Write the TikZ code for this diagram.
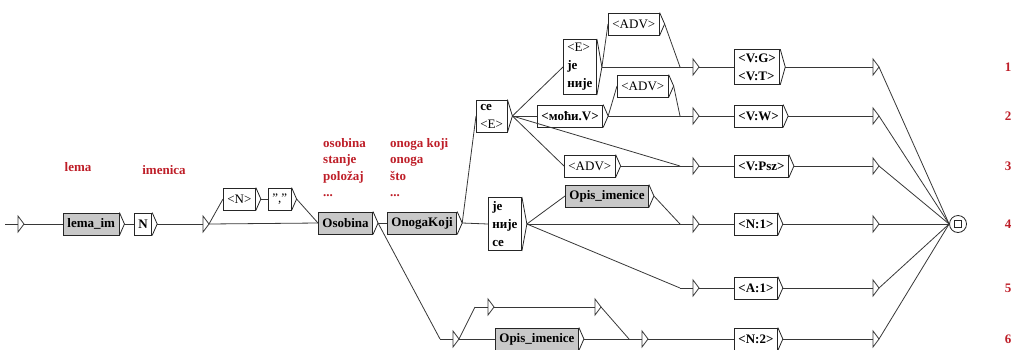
\documentclass[tikz,border=0pt]{standalone}
\usepackage{fontspec}
\setmainfont{Liberation Serif}
\usepackage{tikz}
\usetikzlibrary{positioning,calc}
\definecolor{lblred}{RGB}{190,30,40}
\definecolor{subgray}{RGB}{200,200,200}
\definecolor{linegray}{RGB}{55,55,55}

\tikzset{
  etri/.pic={
    \draw[linegray, line width=0.8pt] (-13,0) -- (0,0);
    \draw[linegray, line width=0.8pt, fill=white] (0,-8) -- (6,0) -- (0,8) -- cycle;
    \coordinate (-in) at (-13,0);
    \coordinate (-out) at (6,0);
  }
}

\begin{document}
\begin{tikzpicture}[x=1pt, y=-1pt,
    box/.style={draw=black!85, line width=0.8pt, fill=white, align=left, anchor=west,
                inner xsep=4pt, inner ysep=4pt, minimum height=22pt,
                font=\fontsize{13}{18}\selectfont\bfseries},
    subbox/.style={box, fill=subgray},
    plain/.style={font=\fontsize{13}{18}\selectfont},
    trans/.style={draw=linegray, line width=0.8pt},
    lbl/.style={text=lblred, font=\fontsize{13}{16.5}\selectfont\bfseries,
                align=left, inner sep=0pt}
]
\useasboundingbox (0,0) rectangle (1014,349);

% red comments
\node[lbl] (lblLema) at (78,167) {lema};
\node[lbl] (lblImen) at (164,170) {imenica};
\node[lbl, anchor=north west] (lblOsob) at (323,138) {osobina\\stanje\\položaj\\...};
\node[lbl, anchor=north west] (lblOnoga) at (390,138) {onoga koji\\onoga\\što\\...};
\foreach \n/\y in {1/67,2/116,3/166,4/224,5/288,6/339}
  \node[lbl] (num\n) at (1008,\y) {\n};

% main line
\pic (t0) at (18,224) {etri};
\node[subbox] (lemaim) at (63,224) {lema\_im};
\node[box] (nn) at (134,224) {N};
\pic (t1) at (203,224) {etri};
\node[box, plain] (ntag) at (223,199) {<N>};
\node[box, plain] (comma) at (268,199) {","};
\node[subbox] (osobina) at (318,223) {Osobina};
\node[subbox] (onoga) at (387,223) {OnogaKoji};

% upper branch
\node[box] (ce) at (476,116) {ce\\{\mdseries <E>}};
\node[box] (eje) at (563,67) {{\mdseries <E>}\\je\\није};
\node[box, plain] (adv1) at (608,24) {<ADV>};
\node[box] (mocv) at (537,116) {<моћи.V>};
\node[box, plain] (adv2) at (617,86) {<ADV>};
\node[box, plain] (adv3) at (564,166) {<ADV>};

% middle branch
\node[box] (jenije) at (488,224) {je\\није\\ce};
\node[subbox] (opis1) at (565,196) {Opis\_imenice};

% lower branch
\pic (t6a) at (453,339) {etri};
\pic (t6b) at (488,307) {etri};
\pic (t6c) at (595,307) {etri};
\node[subbox] (opis2) at (495,339) {Opis\_imenice};
\pic (t6d) at (642,339) {etri};

% output column
\foreach \r/\y in {1/67,2/116,3/166,4/224,5/288}
  \pic (r\r) at (693,\y) {etri};
\node[box] (vgt) at (734,67) {<V:G>\\<V:T>};
\node[box] (vw) at (734,116) {<V:W>};
\node[box] (vpsz) at (734,166) {<V:Psz>};
\node[box] (nA) at (734,224) {<N:1>};
\node[box] (aA) at (734,288) {<A:1>};
\node[box] (nB) at (734,339) {<N:2>};
\foreach \s/\y in {1/67,2/116,3/166,4/224,5/288,6/339}
  \pic (s\s) at (873,\y) {etri};

% final state
\node[circle, draw=black!85, line width=0.8pt, minimum size=17pt, inner sep=0pt] (fin) at (958,224) {};
\node[draw=black!85, line width=0.8pt, minimum size=7pt, inner sep=0pt] (finsq) at (fin.center) {};

% box tips
\foreach \b in {lemaim,nn,ntag,comma,osobina,onoga,ce,eje,adv1,mocv,adv2,adv3,
                jenije,opis1,opis2,vgt,vw,vpsz,nA,aA,nB}
  \draw[black!85, line width=0.8pt] (\b.north east) -- ($(\b.east)+(5,0)$) coordinate (\b-o) -- (\b.south east);

% transitions
\draw[trans] (t0-out) -- (lemaim.west);
\draw[trans] (lemaim-o) -- (nn.west);
\draw[trans] (nn-o) -- (t1-in);
\draw[trans] (t1-out) -- (ntag.west);
\draw[trans] (t1-out) -- (osobina.west);
\draw[trans] (ntag-o) -- (comma.west);
\draw[trans] (comma-o) -- (osobina.west);
\draw[trans] (osobina-o) -- (onoga.west);
\draw[trans] (osobina-o) -- (t6a-in);
\draw[trans] (onoga-o) -- (ce.west);
\draw[trans] (onoga-o) -- (jenije.west);
\draw[trans] (ce-o) -- (eje.west);
\draw[trans] (ce-o) -- (mocv.west);
\draw[trans] (ce-o) -- (adv3.west);
\draw[trans] (ce-o) -- (r3-in);
\draw[trans] (eje-o) -- (adv1.west);
\draw[trans] (eje-o) -- (r1-in);
\draw[trans] (adv1-o) -- (r1-in);
\draw[trans] (mocv-o) -- (adv2.west);
\draw[trans] (mocv-o) -- (r2-in);
\draw[trans] (adv2-o) -- (r2-in);
\draw[trans] (adv3-o) -- (r3-in);
\draw[trans] (jenije-o) -- (opis1.west);
\draw[trans] (jenije-o) -- (r4-in);
\draw[trans] (jenije-o) -- (r5-in);
\draw[trans] (opis1-o) -- (r4-in);
\draw[trans] (t6a-out) -- (t6b-in);
\draw[trans] (t6a-out) -- (opis2.west);
\draw[trans] (t6b-out) -- (t6c-in);
\draw[trans] (t6c-out) -- (t6d-in);
\draw[trans] (opis2-o) -- (t6d-in);
\draw[trans] (t6d-out) -- (nB.west);
\draw[trans] (r1-out) -- (vgt.west);
\draw[trans] (r2-out) -- (vw.west);
\draw[trans] (r3-out) -- (vpsz.west);
\draw[trans] (r4-out) -- (nA.west);
\draw[trans] (r5-out) -- (aA.west);
\draw[trans] (vgt-o) -- (s1-in);
\draw[trans] (vw-o) -- (s2-in);
\draw[trans] (vpsz-o) -- (s3-in);
\draw[trans] (nA-o) -- (s4-in);
\draw[trans] (aA-o) -- (s5-in);
\draw[trans] (nB-o) -- (s6-in);
\foreach \s in {1,...,6}
  \draw[trans] (s\s-out) -- (fin.west);

\end{tikzpicture}
\end{document}
